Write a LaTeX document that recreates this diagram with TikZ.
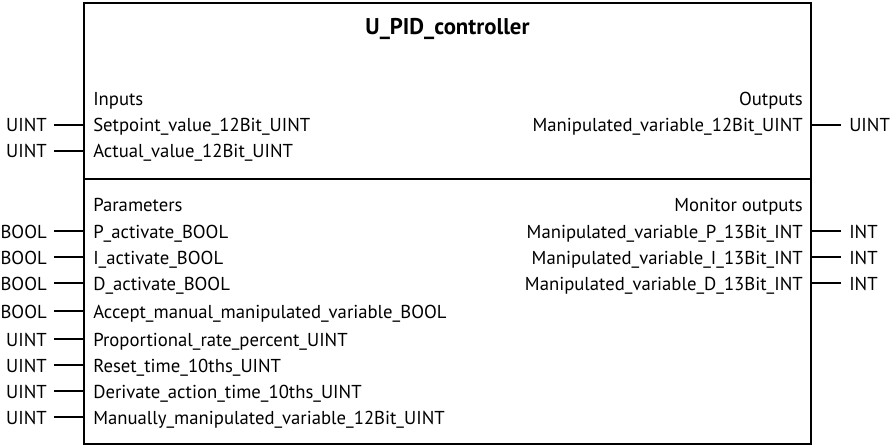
\documentclass[tikz,border=0pt]{standalone}
\usepackage{fontspec}
\setmainfont{PT Sans}
\usetikzlibrary{positioning}

\tikzset{
  lbl/.style={font=\fontsize{13.3}{16}\selectfont,inner sep=0pt},
  inport/.style={lbl,anchor=base west},
  outport/.style={lbl,anchor=base east},
  intype/.style={lbl,anchor=base east,inner xsep=0.175cm},
  outtype/.style={lbl,anchor=base west,inner xsep=0.2cm},
  wire/.style={line width=1.4pt},
  frame/.style={line width=1.7pt}
}

\begin{document}
\begin{tikzpicture}[x=0.025cm,y=-0.025cm]
\useasboundingbox (0,0) rectangle (892,446);
\coordinate (nw) at (84,3);
\coordinate (se) at (811,444);
\coordinate (mw) at (84,179);
\coordinate (me) at (811,179);
\draw[frame] (nw) rectangle (se);
\draw[frame] (mw) -- (me);

\node (title) at (447.5,35) [anchor=base,inner sep=0pt,font=\fontsize{16.2}{19}\selectfont\bfseries] {U\_PID\_controller};

% inputs
\node[inport] (inhead) at (93,106) {Inputs};
\node[inport] (sp) at (93,132) {Setpoint\_value\_12Bit\_UINT};
\node[inport] (pv) at (93,157.5) {Actual\_value\_12Bit\_UINT};
\node[intype] (tsp) at (54,132) {UINT};
\node[intype] (tpv) at (54,157.5) {UINT};
\draw[wire] (tsp.east) -- (tsp.east -| nw);
\draw[wire] (tpv.east) -- (tpv.east -| nw);

% outputs
\node[outport] (outhead) at (803,106) {Outputs};
\node[outport] (mv) at (803,132) {Manipulated\_variable\_12Bit\_UINT};
\node[outtype] (tmv) at (841,132) {UINT};
\draw[wire] (tmv.west -| se) -- (tmv.west);

% parameters
\node[inport] (parhead) at (93,211) {Parameters};
\node[inport] (pa) at (93,238) {P\_activate\_BOOL};
\node[inport] (ia) at (93,264) {I\_activate\_BOOL};
\node[inport] (da) at (93,290) {D\_activate\_BOOL};
\node[inport] (am) at (93,318) {Accept\_manual\_manipulated\_variable\_BOOL};
\node[inport] (kp) at (93,346) {Proportional\_rate\_percent\_UINT};
\node[inport] (tn) at (93,372) {Reset\_time\_10ths\_UINT};
\node[inport] (tv) at (93,398) {Derivate\_action\_time\_10ths\_UINT};
\node[inport] (mm) at (93,424) {Manually\_manipulated\_variable\_12Bit\_UINT};
\node[intype] (tpa) at (54,238) {BOOL};
\node[intype] (tia) at (54,264) {BOOL};
\node[intype] (tda) at (54,290) {BOOL};
\node[intype] (tam) at (54,318) {BOOL};
\node[intype] (tkp) at (54,346) {UINT};
\node[intype] (ttn) at (54,372) {UINT};
\node[intype] (ttv) at (54,398) {UINT};
\node[intype] (tmm) at (54,424) {UINT};
\draw[wire] (tpa.east) -- (tpa.east -| nw);
\draw[wire] (tia.east) -- (tia.east -| nw);
\draw[wire] (tda.east) -- (tda.east -| nw);
\draw[wire] (tam.east) -- (tam.east -| nw);
\draw[wire] (tkp.east) -- (tkp.east -| nw);
\draw[wire] (ttn.east) -- (ttn.east -| nw);
\draw[wire] (ttv.east) -- (ttv.east -| nw);
\draw[wire] (tmm.east) -- (tmm.east -| nw);

% monitor outputs
\node[outport] (monhead) at (803,211) {Monitor outputs};
\node[outport] (mvp) at (803,238) {Manipulated\_variable\_P\_13Bit\_INT};
\node[outport] (mvi) at (803,264) {Manipulated\_variable\_I\_13Bit\_INT};
\node[outport] (mvd) at (803,290) {Manipulated\_variable\_D\_13Bit\_INT};
\node[outtype] (tmvp) at (841,238) {INT};
\node[outtype] (tmvi) at (841,264) {INT};
\node[outtype] (tmvd) at (841,290) {INT};
\draw[wire] (tmvp.west -| se) -- (tmvp.west);
\draw[wire] (tmvi.west -| se) -- (tmvi.west);
\draw[wire] (tmvd.west -| se) -- (tmvd.west);
\end{tikzpicture}
\end{document}
